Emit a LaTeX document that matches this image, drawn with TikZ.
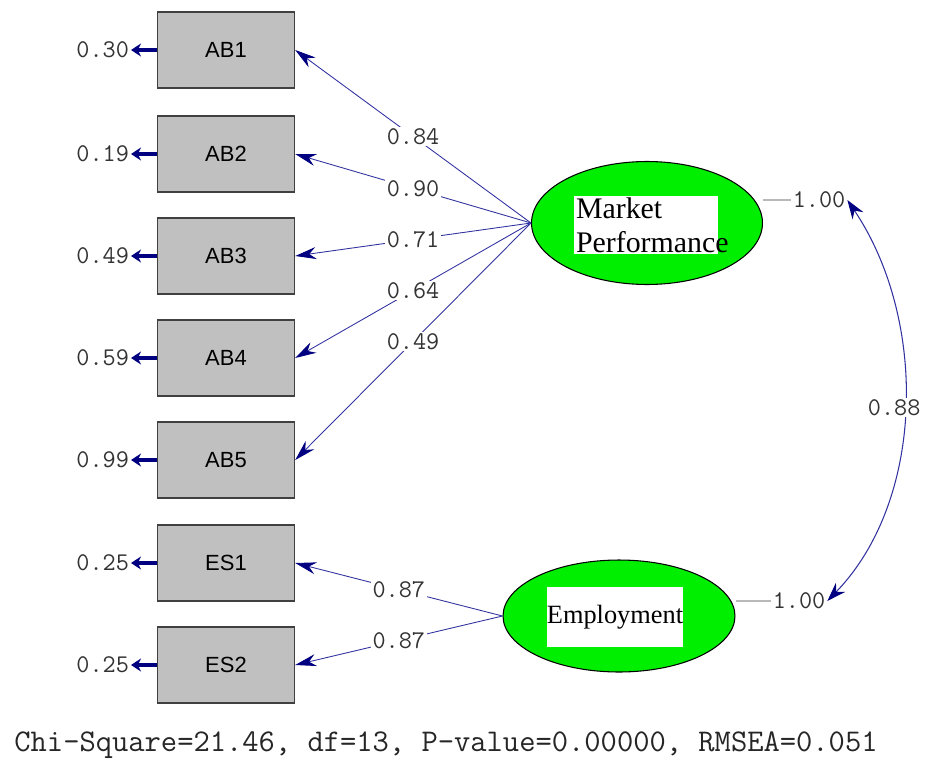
\documentclass[tikz,border=0pt]{standalone}
\usepackage{fontspec}
\setmainfont{Liberation Serif}
\setsansfont{Liberation Sans}
\usetikzlibrary{arrows.meta,shapes.geometric}
\definecolor{lv_green}{RGB}{0, 238, 0}
\definecolor{ov_grey}{RGB}{192, 192, 192}
\definecolor{path_blue}{RGB}{50, 50, 160}
\definecolor{tip_blue}{RGB}{0, 0, 128}
\definecolor{var_grey}{RGB}{185, 185, 185}
\tikzstyle{ov}=[rectangle,fill=ov_grey,draw=black!75,line width=0.8pt,
  minimum width=2.74cm,minimum height=1.52cm,font=\sffamily\fontsize{12.5}{15}\selectfont]
\tikzstyle{lv}=[ellipse,fill=lv_green,draw=black,line width=0.6pt,
  inner sep=0pt,minimum width=4.62cm,minimum height=2.46cm]
\tikzstyle{mpbox}=[rectangle,fill=white,inner sep=1pt,text width=2.8cm,align=left,
  font=\fontsize{17}{19.5}\selectfont]
\tikzstyle{empbox}=[rectangle,fill=white,inner sep=0pt,minimum width=2.68cm,
  minimum height=1.2cm,font=\fontsize{15}{17}\selectfont]
\tikzstyle{coef}=[fill=white,inner sep=1pt,text=black!80,font=\ttfamily\fontsize{14.5}{16}\selectfont]
\tikzstyle{fit}=[inner sep=0pt,text=black!85,font=\ttfamily\fontsize{18}{20}\selectfont]
\tikzstyle{load}=[draw=path_blue,line width=0.5pt,
  -{Stealth[length=0.42cm,width=0.24cm,color=tip_blue]}]
\tikzstyle{err}=[draw=tip_blue,line width=2pt,
  -{Stealth[length=0.2cm,width=0.26cm]}]
\tikzstyle{cov}=[draw=path_blue,line width=0.6pt,
  {Stealth[length=0.38cm,width=0.26cm,color=tip_blue]}-{Stealth[length=0.38cm,width=0.26cm,color=tip_blue]}]
\tikzstyle{var}=[draw=var_grey,line width=0.6pt]
\tikzstyle{none}=[]

\begin{document}
\begin{tikzpicture}[x=0.02cm, y=-0.02cm]
        \useasboundingbox (0, 0) rectangle (925, 760);
        \node [style=ov] (1) at (226, 50) {AB1};
		\node [style=ov] (2) at (226, 154) {AB2};
		\node [style=ov] (3) at (226, 256) {AB3};
		\node [style=ov] (4) at (226, 358) {AB4};
		\node [style=ov] (5) at (226, 460) {AB5};
		\node [style=ov] (6) at (226, 563) {ES1};
		\node [style=ov] (7) at (226, 665) {ES2};
		\node [style=lv] (8) at (647, 223) {};
		\node [style=lv, minimum width=4.64cm, minimum height=2.24cm] (9) at (619, 616) {};
		\node [style=mpbox] (10) at (646, 225) {Market\\Performance};
		\node [style=empbox] (11) at (615, 617) {Employment};
		\node [style=coef, anchor=east] (12) at (131, 50) {0.30};
		\node [style=coef, anchor=east] (13) at (131, 154) {0.19};
		\node [style=coef, anchor=east] (14) at (131, 256) {0.49};
		\node [style=coef, anchor=east] (15) at (131, 358) {0.59};
		\node [style=coef, anchor=east] (16) at (131, 460) {0.99};
		\node [style=coef, anchor=east] (17) at (131, 563) {0.25};
		\node [style=coef, anchor=east] (18) at (131, 665) {0.25};
		\node [style=coef] (19) at (819, 200) {1.00};
		\node [style=coef] (20) at (799, 601) {1.00};
		\node [style=fit] (21) at (446, 745) {Chi-Square=21.46, df=13, P-value=0.00000, RMSEA=0.051};
		\draw [style=load] (8.west) to node [style=coef] {0.84} (1.east);
		\draw [style=load] (8.west) to node [style=coef] {0.90} (2.east);
		\draw [style=load] (8.west) to node [style=coef] {0.71} (3.east);
		\draw [style=load] (8.west) to node [style=coef] {0.64} (4.east);
		\draw [style=load] (8.west) to node [style=coef] {0.49} (5.east);
		\draw [style=load] (9.west) to node [style=coef] {0.87} (6.east);
		\draw [style=load] (9.west) to node [style=coef] {0.87} (7.east);
		\draw [style=err] (1) to (12);
		\draw [style=err] (2) to (13);
		\draw [style=err] (3) to (14);
		\draw [style=err] (4) to (15);
		\draw [style=err] (5) to (16);
		\draw [style=err] (6) to (17);
		\draw [style=err] (7) to (18);
		\draw [style=var] (19.west) to (19.west -| 8.east);
		\draw [style=var] (20.west) to (20.west -| 9.east);
		\draw [style=cov] (19.east) .. controls (928, 320) and (925, 500) .. (20.east)
		  node [style=coef, pos=0.5, xshift=-0.2cm] {0.88};
    \end{tikzpicture}
\end{document}
